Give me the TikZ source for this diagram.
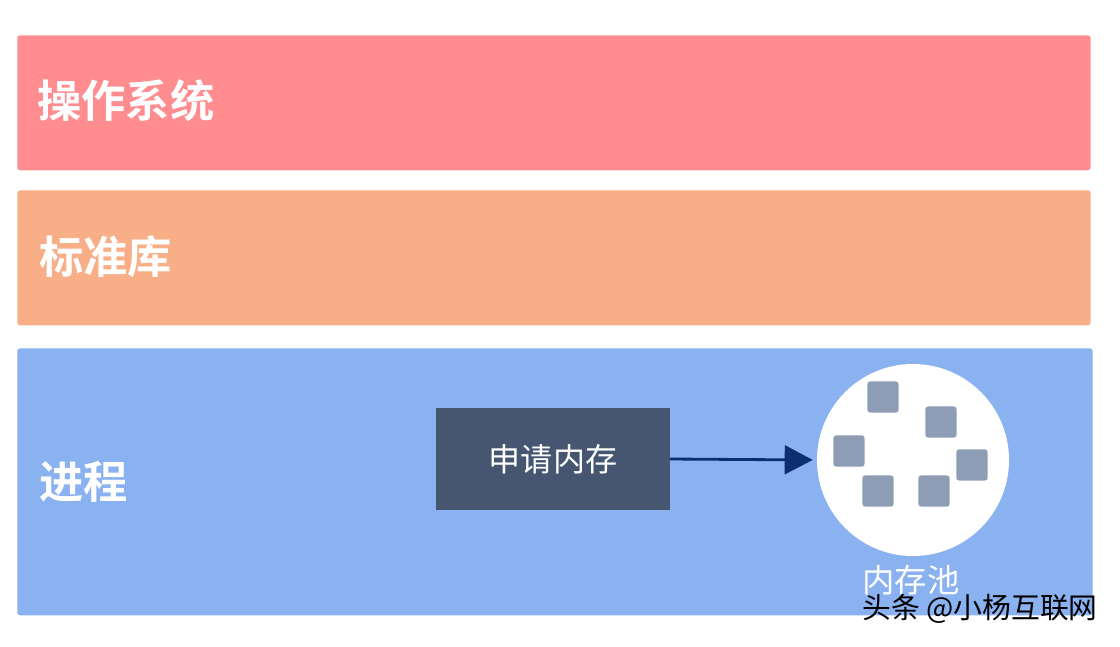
\documentclass[tikz,border=0pt]{standalone}
\usepackage{fontspec}
\usepackage{tikz}
\usetikzlibrary{arrows.meta,positioning}
\newfontfamily\cjk{Noto Sans CJK SC}
\newfontfamily\cjkbold{Noto Sans CJK SC Bold}
\definecolor{osband}{HTML}{FF8C8F}
\definecolor{libband}{HTML}{F8AF88}
\definecolor{procband}{HTML}{8AB1F0}
\definecolor{reqfill}{HTML}{465670}
\definecolor{arrowblue}{HTML}{0B2E6E}
\definecolor{blockfill}{HTML}{8E9DB6}
\tikzset{
  band/.style={
    anchor=north west,
    inner sep=0pt,
    rounded corners=2pt,
    draw=none
  },
  bandlabel/.style={
    anchor=west,
    inner sep=0pt,
    text=white,
    font=\cjkbold\fontsize{31.5}{31.5}\selectfont
  },
  request/.style={
    fill=reqfill,
    draw=none,
    minimum width=5.825cm,
    minimum height=2.55cm,
    text=white,
    font=\cjk\fontsize{22.8}{22.8}\selectfont
  },
  pool/.style={
    circle,
    fill=white,
    draw=none,
    minimum size=4.8cm,
    inner sep=0pt
  },
  block/.style={
    fill=blockfill,
    draw=none,
    rounded corners=2pt,
    minimum size=0.78cm,
    inner sep=0pt
  },
  reqedge/.style={line width=2pt, draw=arrowblue, -{Triangle[length=7mm, width=7.2mm]}, shorten >=1mm},
  poollabel/.style={font=\cjk\fontsize{23}{23}\selectfont, text=white, inner sep=0pt},
  credittext/.style={font=\cjk\fontsize{20.5}{20.5}\selectfont, text=black, anchor=west, inner sep=0pt}
}

\begin{document}
\begin{tikzpicture}[x=0.025cm,y=-0.025cm]
\path[use as bounding box] (0,0) rectangle (1120,646);
\fill[white] (0,0) rectangle (1120,646);

% layers
\node[band, fill=osband, minimum width=26.825cm, minimum height=3.375cm] (os) at (17,35) {};
\node[band, fill=libband, minimum width=26.825cm, minimum height=3.375cm] (lib) at (17,190) {};
\node[band, fill=procband, minimum width=26.875cm, minimum height=6.675cm] (proc) at (17,348) {};

\node[bandlabel] (oslabel) at (37,101) {操作系统};
\node[bandlabel] (liblabel) at (39,257) {标准库};
\node[bandlabel] (proclabel) at (39,482) {进程};

% request and memory pool
\node[request] (req) at (553,459) {申请内存};
\node[pool] (mempool) at (913,460) {};
\foreach \x/\y [count=\i] in {883/397, 941/422, 849/451, 972/465, 878/491, 934/491}
  \node[block] (blk\i) at (\x,\y) {};
\node[poollabel] (poolname) at (911,580) {内存池};

\draw[reqedge] (req.east) -- (mempool.west);

\node[credittext] (credit) at (862,609) {头条 @小杨互联网};

\end{tikzpicture}
\end{document}
